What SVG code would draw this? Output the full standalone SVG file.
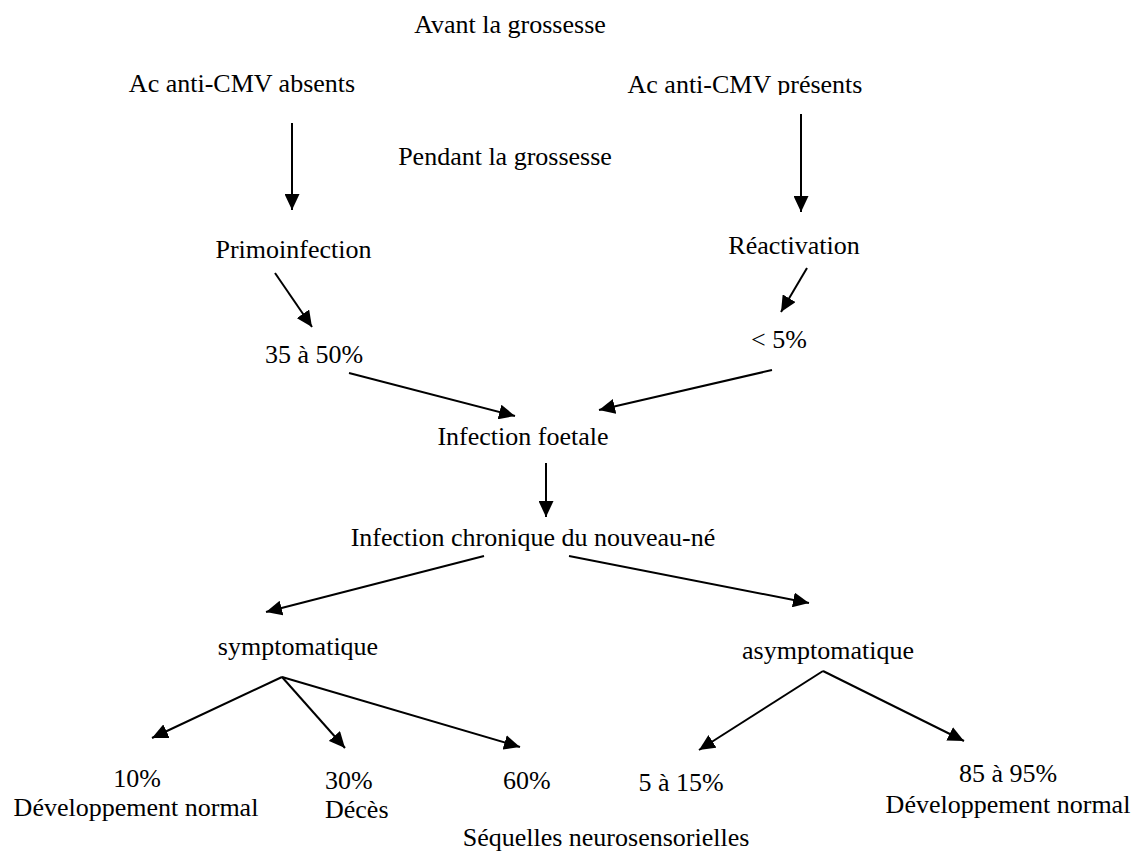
<svg xmlns="http://www.w3.org/2000/svg" width="1137" height="852" viewBox="0 0 1137 852">
<style>
text{font-family:"Liberation Serif","Times New Roman",serif;font-size:26px;fill:#000}
.m{text-anchor:middle}
.s{text-anchor:start}
.c line{stroke:#000;stroke-width:2;marker-end:url(#ah)}
</style>
<defs>
<marker id="ah" viewBox="0 0 16 15" refX="16" refY="7.5" markerWidth="16" markerHeight="15" orient="auto" markerUnits="userSpaceOnUse">
<path d="M0,0 L16,7.5 L0,15 z" fill="#000"/>
</marker>
<clipPath id="clipPres"><rect x="600" y="60" width="300" height="35"/></clipPath>
<clipPath id="clipPrimo"><rect x="200" y="225" width="190" height="33"/></clipPath>
</defs>
<rect width="1137" height="852" fill="#fff"/>
<g class="c" id="connectors">
<line x1="292" y1="123" x2="292" y2="210"/>
<line x1="801" y1="114" x2="801" y2="212"/>
<line x1="275" y1="273" x2="312" y2="327"/>
<line x1="807" y1="268" x2="781" y2="312"/>
<line x1="349" y1="373" x2="515" y2="416"/>
<line x1="772" y1="370" x2="599" y2="410"/>
<line x1="546" y1="463" x2="546" y2="517"/>
<line x1="484" y1="556" x2="266" y2="612"/>
<line x1="569" y1="556" x2="809" y2="603"/>
<line x1="282" y1="677" x2="152" y2="738"/>
<line x1="282" y1="677" x2="345" y2="748"/>
<line x1="282" y1="677" x2="520" y2="747"/>
<line x1="823" y1="671" x2="699" y2="750"/>
<line x1="823" y1="671" x2="964" y2="741"/>
</g>
<g id="avant"><text class="m" x="510" y="33">Avant la grossesse</text></g>
<g id="absents"><text class="m" x="242" y="92">Ac anti-CMV absents</text></g>
<g id="presents" clip-path="url(#clipPres)"><text class="m" x="745" y="93">Ac anti-CMV présents</text></g>
<g id="pendant"><text class="m" x="505" y="165">Pendant la grossesse</text></g>
<g id="primo" clip-path="url(#clipPrimo)"><text class="m" x="293.5" y="258">Primoinfection</text></g>
<g id="reactivation"><text class="m" x="794" y="254">Réactivation</text></g>
<g id="p3550"><text class="m" x="314" y="363">35 à 50%</text></g>
<g id="p5"><text class="m" x="779" y="348">&lt; 5%</text></g>
<g id="foetale"><text class="m" x="523" y="445">Infection foetale</text></g>
<g id="chronique"><text class="m" x="533" y="546">Infection chronique du nouveau-né</text></g>
<g id="sympto"><text class="m" x="298" y="655">symptomatique</text></g>
<g id="asympto"><text class="m" x="828" y="659">asymptomatique</text></g>
<g id="p10"><text class="m" x="137" y="787">10%</text><text class="m" x="136" y="816">Développement normal</text></g>
<g id="p30"><text class="s" x="325" y="789">30%</text><text class="s" x="325" y="818">Décès</text></g>
<g id="p60"><text class="s" x="503" y="789">60%</text></g>
<g id="p515"><text class="m" x="681" y="791">5 à 15%</text></g>
<g id="p8595"><text class="m" x="1008" y="782">85 à 95%</text><text class="m" x="1008" y="813">Développement normal</text></g>
<g id="sequelles"><text class="m" x="606" y="846">Séquelles neurosensorielles</text></g>
</svg>
